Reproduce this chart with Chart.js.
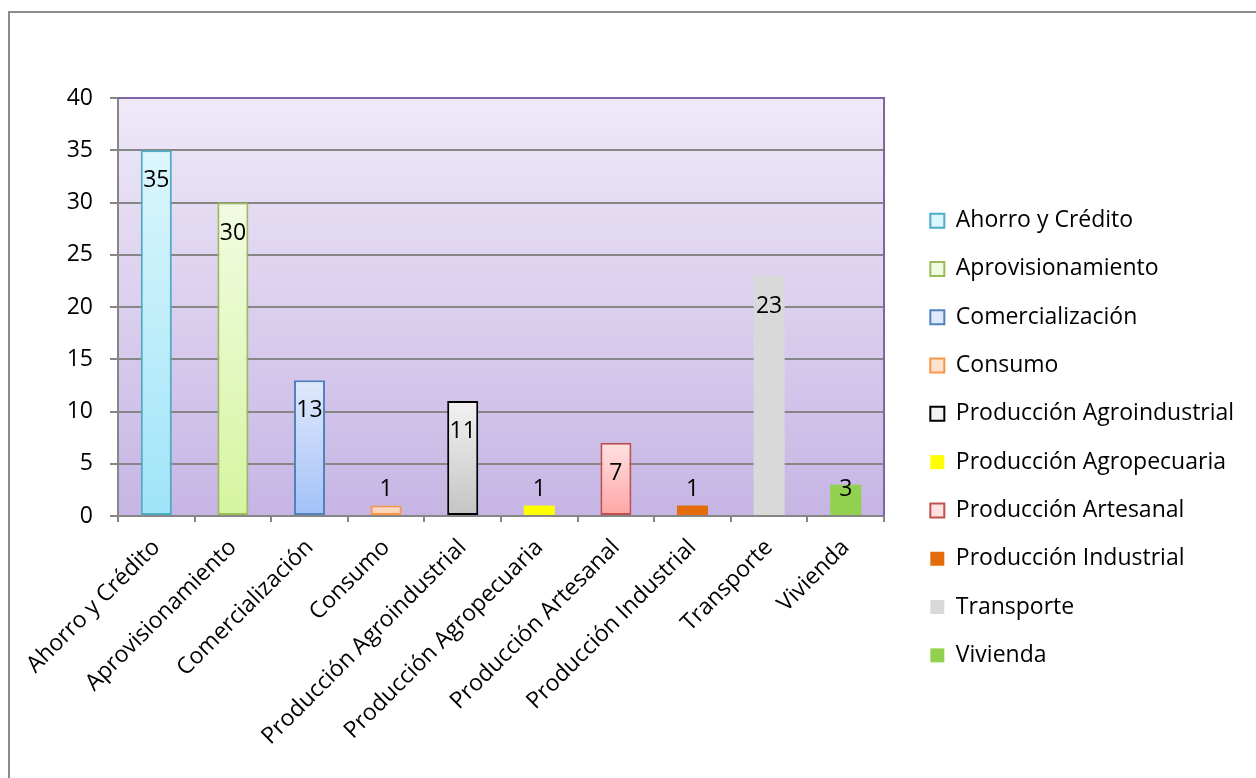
<!DOCTYPE html>
<html lang="es">
<head>
  <meta charset="UTF-8">
  <title>Organizaciones por actividad</title>
  <script src="https://cdn.jsdelivr.net/npm/chart.js"></script>
  <style>
    html, body { margin: 0; padding: 0; background: #fff; overflow: hidden; }
    #frame {
      position: absolute; left: 8px; top: 11px; width: 1300px; height: 800px;
      border-left: 2px solid #8c8c8c; border-top: 2px solid #8c8c8c;
    }
    #wrap { position: absolute; left: 0; top: 0; width: 1256px; height: 778px; }
  </style>
</head>
<body>
  <div id="frame"></div>
  <div id="wrap"><canvas id="chart"></canvas></div>

  <script>
    // Data
    const categories = ['Ahorro y Crédito', 'Aprovisionamiento', 'Comercialización', 'Consumo',
      'Producción Agroindustrial', 'Producción Agropecuaria', 'Producción Artesanal',
      'Producción Industrial', 'Transporte', 'Vivienda'];
    const values = [35, 30, 13, 1, 11, 1, 7, 1, 23, 3];
    const yTicks = [0, 5, 10, 15, 20, 25, 30, 35, 40];

    // Bar styles (top colour, bottom colour, border)
    const topColors = ['#dcf6fd', '#f2fbe2', '#e0e9fb', '#fde3cf', '#f2f2f2', '#ffff00', '#ffe1e1', '#e46c0a', '#d9d9d9', '#92d050'];
    const bottomColors = ['#9fe4f7', '#d5f5a0', '#a3c1f8', '#fcc9a2', '#c4c4c4', '#ffff00', '#ffa4a4', '#e46c0a', '#d9d9d9', '#92d050'];
    const borderColors = ['#4bacc6', '#9bbb59', '#4f81bd', '#f79646', '#000000', '#ffff00', '#c0504d', '#e46c0a', '#d9d9d9', '#92d050'];
    const borderWidths = [2, 2, 2, 2, 2, 0, 2, 0, 0, 0];

    const FONT = "'Open Sans', sans-serif";
    const GRID = '#868686';

    function barFill(ctx) {
      const i = ctx.dataIndex;
      const chart = ctx.chart;
      if (!chart.chartArea || topColors[i] === bottomColors[i]) return bottomColors[i];
      const y = chart.scales.y;
      const g = chart.ctx.createLinearGradient(0, y.getPixelForValue(values[i]), 0, y.getPixelForValue(0));
      g.addColorStop(0, topColors[i]);
      g.addColorStop(1, bottomColors[i]);
      return g;
    }

    // plot background gradient + purple top/right border
    const plotBg = {
      id: 'plotBg',
      beforeDraw(chart) {
        const { ctx, chartArea: a } = chart;
        const g = ctx.createLinearGradient(0, a.top, 0, a.bottom);
        g.addColorStop(0, '#efe9f8');
        g.addColorStop(1, '#c6b5e4');
        ctx.save();
        ctx.fillStyle = g;
        ctx.fillRect(a.left, a.top, a.right - a.left, a.bottom - a.top);
        ctx.restore();
      },
      beforeDatasetsDraw(chart) {
        const { ctx, chartArea: a } = chart;
        ctx.save();
        ctx.strokeStyle = '#8064a2';
        ctx.lineWidth = 2;
        ctx.beginPath();
        ctx.moveTo(a.left, a.top);
        ctx.lineTo(a.right, a.top);
        ctx.lineTo(a.right, a.bottom);
        ctx.stroke();
        ctx.restore();
      }
    };

    // value labels: inside the top of the bar, or above a short bar
    const valueLabels = {
      id: 'valueLabels',
      afterDatasetsDraw(chart) {
        const ctx = chart.ctx;
        const meta = chart.getDatasetMeta(0);
        ctx.save();
        ctx.font = '23px ' + FONT;
        ctx.fillStyle = '#000';
        ctx.textAlign = 'center';
        ctx.textBaseline = 'middle';
        meta.data.forEach((bar, i) => {
          const y = Math.min(bar.y + 30.5, bar.base - 25.5);
          ctx.fillText(String(values[i]), bar.x, y);
        });
        ctx.restore();
      }
    };

    // legend box: a little gap after the plot, and room up to the canvas edge
    const legendShift = {
      id: 'legendShift',
      afterLayout(chart) {
        chart.legend.left = chart.chartArea.right + 21;
        chart.legend.right = chart.width;
      }
    };

    new Chart(document.getElementById('chart'), {
      type: 'bar',
      data: {
        labels: categories,
        datasets: [{
          data: values,
          backgroundColor: barFill,
          borderColor: borderColors,
          borderWidth: borderWidths,
          borderSkipped: false,
          categoryPercentage: 1,
          barPercentage: 0.405
        }]
      },
      options: {
        responsive: true,
        maintainAspectRatio: false,
        animation: false,
        layout: { padding: { top: 98, right: 77.3, bottom: 0, left: 0 } },
        plugins: {
          tooltip: { enabled: false },
          legend: {
            position: 'right',
            labels: {
              color: '#000',
              font: { family: FONT, size: 23 },
              boxWidth: 14,
              boxHeight: 14,
              padding: 25.3,
              generateLabels: () => categories.map((c, i) => ({
                text: c,
                fillStyle: borderWidths[i] ? topColors[i] : bottomColors[i],
                strokeStyle: borderColors[i],
                lineWidth: borderWidths[i],
                fontColor: '#000',
                hidden: false,
                index: i,
                datasetIndex: 0
              }))
            }
          }
        },
        scales: {
          x: {
            grid: { drawOnChartArea: false, color: GRID, lineWidth: 2, tickLength: 6, offset: true },
            border: { color: GRID, width: 2 },
            ticks: {
              color: '#000', font: { family: FONT, size: 23 },
              maxRotation: 45, minRotation: 45, autoSkip: false, padding: 12
            },
            afterFit(scale) { scale.height = 262; }
          },
          y: {
            min: 0, max: 40,
            afterBuildTicks(scale) { scale.ticks = yTicks.map(v => ({ value: v })); },
            grid: { color: GRID, lineWidth: 2, tickLength: 8 },
            border: { color: GRID, width: 2 },
            ticks: { color: '#000', font: { family: FONT, size: 23 }, padding: 17 },
            afterFit(scale) { scale.width = 118; }
          }
        }
      },
      plugins: [plotBg, valueLabels, legendShift]
    });
  </script>
</body>
</html>
